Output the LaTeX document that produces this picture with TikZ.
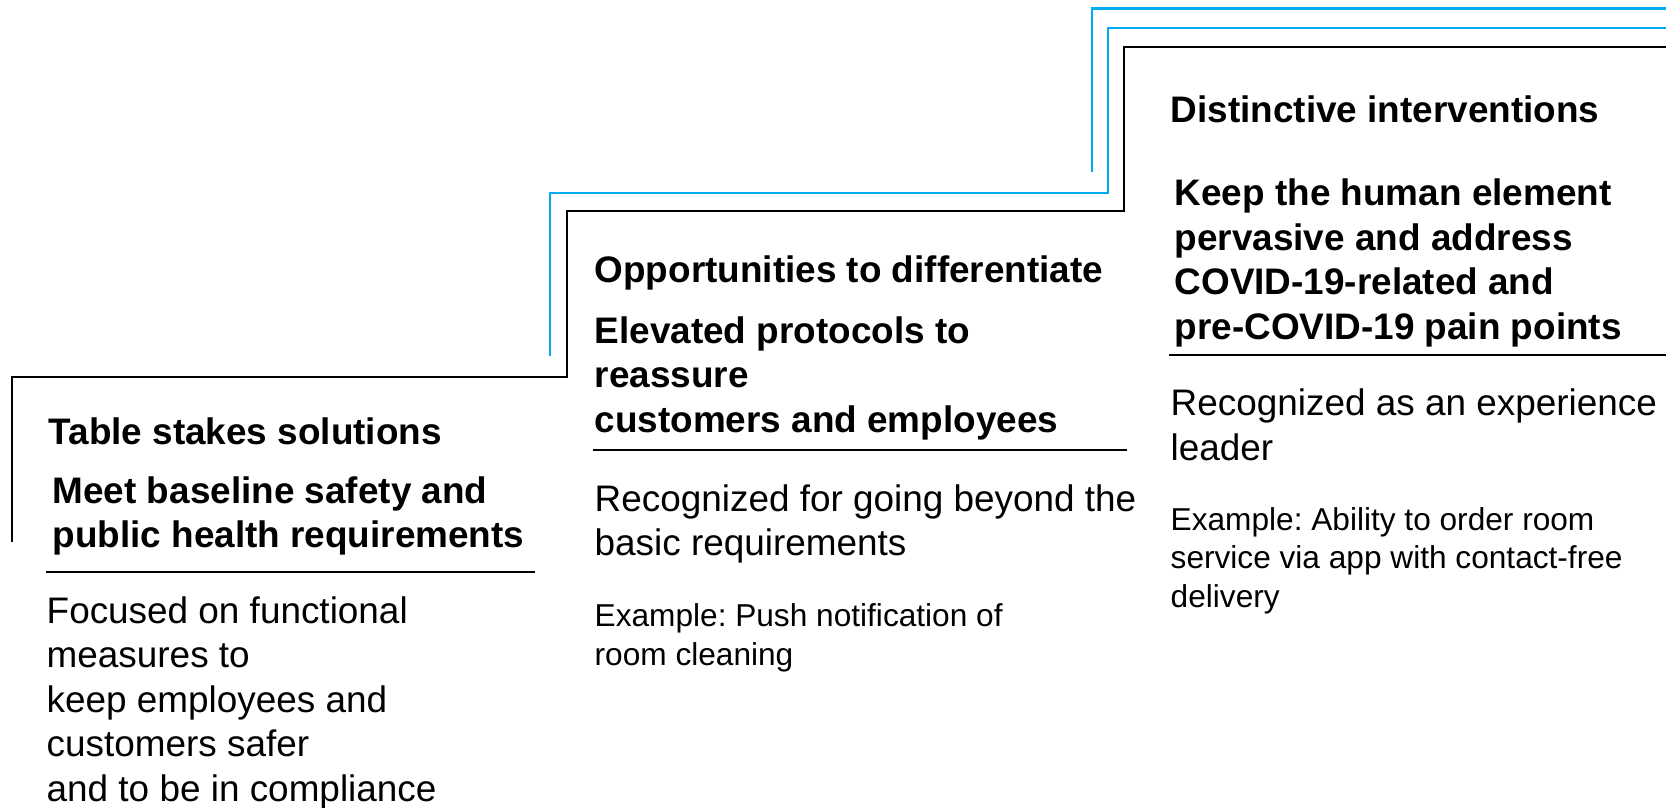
\documentclass[tikz,border=0pt]{standalone}
\usepackage{fontspec}
\setmainfont{Liberation Sans}
\usepackage{tikz}
\definecolor{skyblue}{RGB}{0, 170, 240}
\frenchspacing

\tikzset{
    heading/.style = {anchor=base west, inner sep=0pt, align=left,
                      font=\bfseries\fontsize{10.5}{12.66}\selectfont},
    bodytext/.style = {anchor=base west, inner sep=0pt, align=left,
                       font=\fontsize{10.5}{12.66}\selectfont},
    example/.style = {anchor=base west, inner sep=0pt, align=left,
                      font=\fontsize{9.0}{10.85}\selectfont},
    stepline/.style = {line width=0.7pt},
}

\begin{document}
\begin{tikzpicture}
            % Frame to fix the page size:
            \useasboundingbox                                        (0.00, 0.00) rectangle (16.66,-8.07);
            % Step lines
            \draw[skyblue, stepline] (10.92,-1.72) -- (10.92,-0.085) -- (16.66,-0.085);
            \draw[skyblue, stepline] ( 5.50,-3.56) -- ( 5.50,-1.93) -- (11.08,-1.93) -- (11.08,-0.28) -- (16.66,-0.28);
            \draw[black,   stepline] ( 0.12,-5.42) -- ( 0.12,-3.77) -- ( 5.67,-3.77) -- ( 5.67,-2.11)
                                      -- (11.24,-2.11) -- (11.24,-0.47) -- (16.66,-0.47);
            % First step (multi-line nodes sit on their last baseline)
            \node[heading]  (tablestakes) at ( 0.48,-4.44)  {Table stakes solutions};
            \node[heading]  (baseline)    at ( 0.52,-5.475) {Meet baseline safety and\\public health requirements};
            \draw[stepline]                                            ( 0.46,-5.72) -- ( 5.35,-5.72);
            \node[bodytext] (functional)  at ( 0.46,-8.01)  {Focused on functional\\measures to\\keep employees and\\customers safer\\and to be in compliance};
            % Second step
            \node[heading]  (differ)      at ( 5.94,-2.82)  {Opportunities to differentiate};
            \node[heading]  (elevated)    at ( 5.94,-4.32)  {Elevated protocols to\\reassure\\customers and employees};
            \draw[stepline]                                            ( 5.93,-4.50) -- (11.27,-4.50);
            \node[bodytext] (beyond)      at ( 5.94,-5.555) {Recognized for going beyond the\\basic requirements};
            \node[example]  (pushnote)    at ( 5.94,-6.65)  {Example: Push notification of\\room cleaning};
            % Third step
            \node[heading]  (distinctive) at (11.70,-1.22)  {Distinctive interventions};
            \node[heading]  (human)       at (11.74,-3.39)  {Keep the human element\\pervasive and address\\COVID-19-related and\\pre-COVID-19 pain points};
            \draw[stepline]                                            (11.69,-3.55) -- (16.66,-3.55);
            \node[bodytext] (leader)      at (11.70,-4.60)  {Recognized as an experience\\leader};
            \node[example]  (roomservice) at (11.70,-6.07)  {Example: Ability to order room\\service via app with contact-free\\delivery};
\end{tikzpicture}
\end{document}
